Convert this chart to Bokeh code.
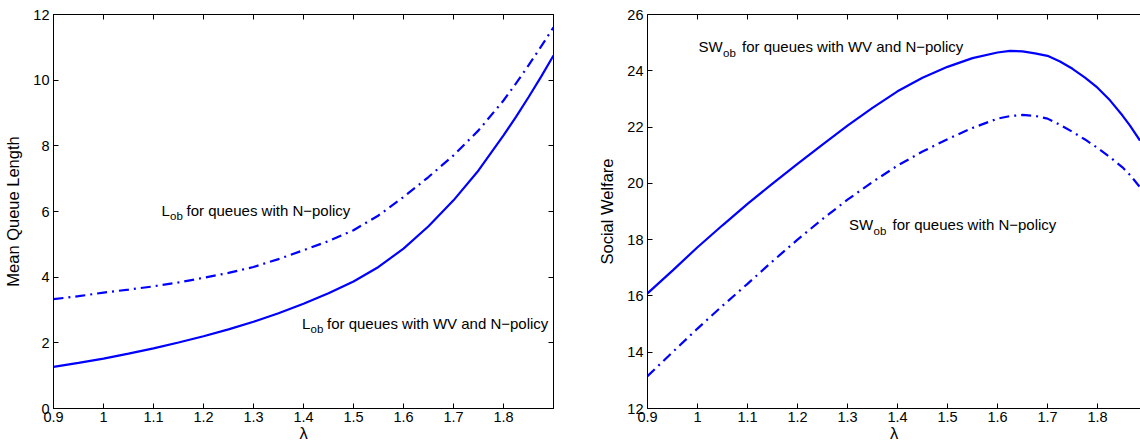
from bokeh.plotting import figure
from bokeh.models import Range1d, LinearAxis, FixedTicker, Label, CustomJSTickFormatter
from bokeh.layouts import row
from bokeh.embed import file_html
from bokeh.resources import INLINE

# ---------------- data ----------------
lam = [0.90, 0.95, 1.00, 1.05, 1.10, 1.15, 1.20, 1.25, 1.30, 1.35, 1.40,
       1.45, 1.50, 1.55, 1.60, 1.65, 1.70, 1.75, 1.80, 1.825, 1.85, 1.875, 1.90]
L_wv = [1.27, 1.39, 1.52, 1.67, 1.83, 2.01, 2.20, 2.41, 2.64, 2.90, 3.19,
        3.51, 3.87, 4.31, 4.87, 5.55, 6.34, 7.25, 8.32, 8.88, 9.48, 10.10, 10.75]
L_n = [3.33, 3.42, 3.53, 3.62, 3.72, 3.84, 3.98, 4.13, 4.31, 4.55, 4.82,
       5.10, 5.43, 5.88, 6.44, 7.05, 7.71, 8.47, 9.38, 9.90, 10.45, 11.02, 11.61]

lam_sw = [0.90, 0.95, 1.00, 1.05, 1.10, 1.15, 1.20, 1.25, 1.30, 1.35, 1.40,
          1.45, 1.50, 1.55, 1.60, 1.625, 1.65, 1.675, 1.70, 1.725, 1.75, 1.775,
          1.80, 1.825, 1.85, 1.865, 1.885]
SW_wv = [16.09, 16.90, 17.73, 18.51, 19.27, 19.99, 20.69, 21.38, 22.05, 22.68, 23.27,
         23.75, 24.14, 24.45, 24.65, 24.71, 24.69, 24.62, 24.53, 24.33, 24.07, 23.76,
         23.40, 22.95, 22.41, 22.05, 21.52]
SW_n = [13.15, 14.00, 14.84, 15.65, 16.43, 17.23, 18.00, 18.73, 19.42, 20.05, 20.63,
        21.13, 21.57, 21.97, 22.30, 22.39, 22.43, 22.40, 22.30, 22.08, 21.83, 21.56,
        21.26, 20.93, 20.57, 20.30, 19.86]

x_ticks = [0.9, 1.0, 1.1, 1.2, 1.3, 1.4, 1.5, 1.6, 1.7, 1.8]
x_tick_labels = ["0.9", "1", "1.1", "1.2", "1.3", "1.4", "1.5", "1.6", "1.7", "1.8"]
y_ticks_L = [0, 2, 4, 6, 8, 10, 12]
y_ticks_SW = [12, 14, 16, 18, 20, 22, 24, 26]

# annotation anchors (data units): main symbol, rest of text, x, baseline y
ann_L = [("L", "for queues with N\u2212policy", 1.116, 6.04),
         ("L", "for queues with WV and N\u2212policy", 1.397, 2.59)]
ann_SW = [("SW", "for queues with WV and N\u2212policy", 1.002, 24.86),
          ("SW", "for queues with N\u2212policy", 1.303, 18.53)]

FONT = "Liberation Sans"
BLUE = "#0000FF"
DASHDOT = "10 5 2 5"
TICK_FS = "14.5px"
LAB_FS = "15px"
AXLAB_FS = "16.5px"


def style_axis(ax, labels=True):
    ax.axis_line_color = "black"
    ax.axis_line_width = 1
    ax.major_tick_in = 5
    ax.major_tick_out = 0
    ax.minor_tick_line_color = None
    ax.major_tick_line_color = "black"
    ax.major_label_text_font = FONT
    ax.major_label_text_color = "black"
    ax.major_label_text_font_size = TICK_FS
    ax.axis_label_text_font = FONT
    ax.axis_label_text_font_style = "normal"
    ax.axis_label_text_font_size = AXLAB_FS
    ax.axis_label_text_color = "black"
    if labels:
        ax.major_label_standoff = 3
    else:
        ax.formatter = CustomJSTickFormatter(code="return '';")
        ax.major_label_standoff = 0


def make_fig(width, bl, br, xend, yr, yticks, ylabel, right_axis):
    p = figure(width=width, height=447,
               x_range=Range1d(0.9, xend), y_range=Range1d(*yr),
               output_backend="svg", toolbar_location=None,
               min_border_left=bl, min_border_right=br,
               min_border_top=14, min_border_bottom=39)
    p.grid.visible = False
    p.background_fill_color = "white"
    p.border_fill_color = "white"
    p.outline_line_color = "black" if right_axis else None

    p.xaxis.ticker = FixedTicker(ticks=x_ticks)
    p.xaxis.major_label_overrides = {t: s for t, s in zip(x_ticks, x_tick_labels)}
    p.yaxis.ticker = FixedTicker(ticks=yticks)
    for ax in p.xaxis:
        style_axis(ax)
        ax.axis_label = "\u03bb"
        ax.axis_label_standoff = -1
    for ax in p.yaxis:
        style_axis(ax)
        ax.axis_label = ylabel
        ax.axis_label_standoff = 8
        ax.major_label_standoff = 4

    top = LinearAxis(ticker=FixedTicker(ticks=x_ticks))
    style_axis(top, labels=False)
    p.add_layout(top, "above")
    if right_axis:
        rt = LinearAxis(ticker=FixedTicker(ticks=yticks))
        style_axis(rt, labels=False)
        p.add_layout(rt, "right")
    return p


def add_ann(p, items, sub_dx, rest_dx):
    for (sym, rest, x, y) in items:
        p.add_layout(Label(x=x, y=y, text=sym, text_font=FONT, text_font_size=LAB_FS,
                           text_color="black", text_baseline="alphabetic"))
        p.add_layout(Label(x=x, y=y, text="ob", x_offset=sub_dx, y_offset=-6,
                           text_font=FONT, text_font_size="11.5px",
                           text_color="black", text_baseline="alphabetic"))
        p.add_layout(Label(x=x, y=y, text=rest, x_offset=rest_dx,
                           text_font=FONT, text_font_size=LAB_FS,
                           text_color="black", text_baseline="alphabetic"))


p1 = make_fig(583, 53, 30, 1.9, (0, 12), y_ticks_L, "Mean Queue Length", True)
p1.line(lam, L_wv, line_color=BLUE, line_width=2.2)
p1.line(lam, L_n, line_color=BLUE, line_width=2.2, line_dash=DASHDOT)
add_ann(p1, ann_L, 8.5, 25)

p2 = make_fig(557, 64, 0, 1.886, (12, 26), y_ticks_SW, "Social Welfare", False)
p2.line(lam_sw, SW_wv, line_color=BLUE, line_width=2.2)
p2.line(lam_sw, SW_n, line_color=BLUE, line_width=2.2, line_dash=DASHDOT)
add_ann(p2, ann_SW, 24.5, 43.5)

layout = row(p1, p2)
open("out.html", "w").write(file_html(layout, INLINE))
